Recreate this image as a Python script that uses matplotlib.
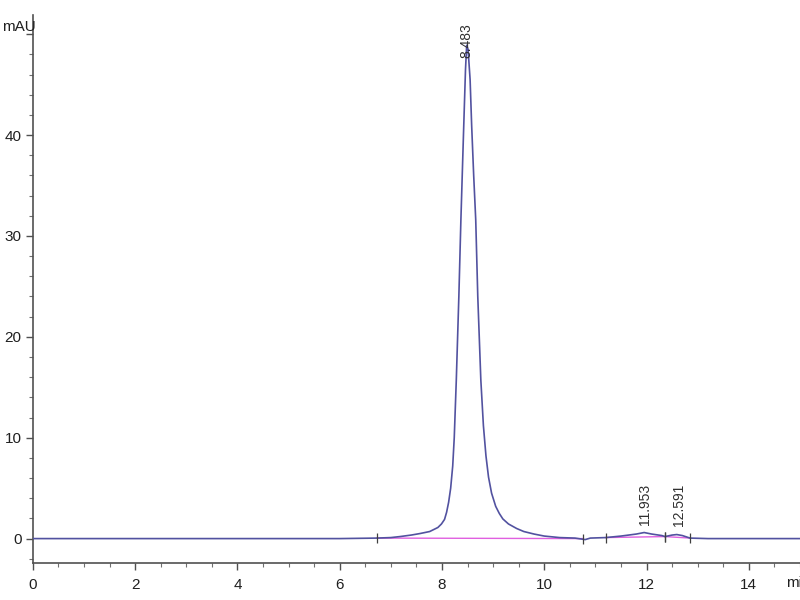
import matplotlib
matplotlib.use("Agg")
import matplotlib.pyplot as plt
from matplotlib.ticker import MultipleLocator, FuncFormatter

plt.rcParams['font.family'] = ['Liberation Sans Narrow', 'Liberation Sans', 'DejaVu Sans']

# Chromatogram trace (time in min, signal in mAU)
time = [0.0, 1.0, 2.0, 3.0, 4.0, 5.0, 6.0, 6.73, 7.0, 7.18, 7.4, 7.57, 7.76, 7.92, 7.99,
        8.05, 8.09, 8.13, 8.17, 8.21, 8.24, 8.28, 8.33, 8.37, 8.42, 8.46, 8.483,
        8.51, 8.55, 8.58, 8.62, 8.66, 8.70, 8.76, 8.81, 8.86, 8.91, 8.97, 9.05,
        9.12, 9.19, 9.3, 9.46, 9.6, 9.8, 10.0, 10.3, 10.6, 10.8, 10.9, 11.2,
        11.5, 11.8, 11.953, 12.1, 12.3, 12.36, 12.5, 12.591, 12.7, 12.85, 13.2,
        14.0, 15.0]
signal = [0.0, 0.0, 0.0, 0.0, 0.0, 0.0, 0.0, 0.05, 0.1, 0.2, 0.35, 0.5, 0.7, 1.1, 1.45,
          1.9, 2.6, 3.6, 5.0, 7.2, 10.0, 15.7, 24.0, 31.6, 40.0, 46.5, 48.9,
          48.5, 45.5, 41.0, 36.0, 31.6, 24.0, 15.7, 11.2, 8.2, 6.1, 4.5, 3.2,
          2.5, 1.95, 1.45, 1.0, 0.7, 0.45, 0.25, 0.1, 0.05, -0.1, 0.05, 0.1,
          0.25, 0.45, 0.6, 0.45, 0.3, 0.2, 0.35, 0.4, 0.3, 0.05, 0.0,
          0.0, 0.0]

# Integration baselines (start, end) pairs
base_t = [[6.73, 10.75], [11.2, 12.36], [12.36, 12.85]]
base_y = [[0.05, 0.0], [0.1, 0.2], [0.2, 0.05]]

# Peak labels
peak_lab = ["8.483", "11.953", "12.591"]
peak_lab_x = [8.483, 11.97, 12.63]
peak_lab_y = [47.6, 1.3, 1.2]

fig = plt.figure(figsize=(8, 6), dpi=100)
ax = fig.add_axes([0.041, 0.062, 0.959, 0.913])

line_col = '#5252a0'
ax.plot(time, signal, color=line_col, lw=1.2, zorder=3)
for bt, by in zip(base_t, base_y):
    ax.plot(bt, by, color='#e060e0', lw=1.0, zorder=2)
    ax.plot(bt, by, linestyle='none', marker='|', markersize=7, color='#404040',
            markeredgewidth=0.9, zorder=4)

for x, y, lab in zip(peak_lab_x, peak_lab_y, peak_lab):
    ax.text(x, y, lab, rotation=90, ha='center', va='bottom', fontsize=10,
            color='#303030', zorder=5)

ax.set_xlim(0, 15.0)
ax.set_ylim(-2.4, 51.9)
ax.xaxis.set_major_locator(MultipleLocator(2))
ax.xaxis.set_minor_locator(MultipleLocator(0.5))
ax.yaxis.set_major_locator(MultipleLocator(10))
ax.yaxis.set_minor_locator(MultipleLocator(2))
ax.yaxis.set_major_formatter(FuncFormatter(lambda v, p: '' if v > 45 else f'{v:g}'))

for s in ['top', 'right']:
    ax.spines[s].set_visible(False)
for s in ['left', 'bottom']:
    ax.spines[s].set_color('#505050')
    ax.spines[s].set_linewidth(1.2)

ax.tick_params(which='major', direction='out', length=5, width=1, color='#505050',
               labelsize=11, labelcolor='#202020')
ax.tick_params(which='minor', direction='out', length=3, width=0.8, color='#707070')
ax.tick_params(axis='x', pad=6)
ax.tick_params(axis='y', pad=3)

fig.text(0.003, 0.955, 'mAU', fontsize=11, color='#202020', ha='left', va='center')
fig.text(0.983, 0.028, 'min', fontsize=11, color='#202020', ha='left', va='center')

fig.savefig('out.png', dpi=100)
